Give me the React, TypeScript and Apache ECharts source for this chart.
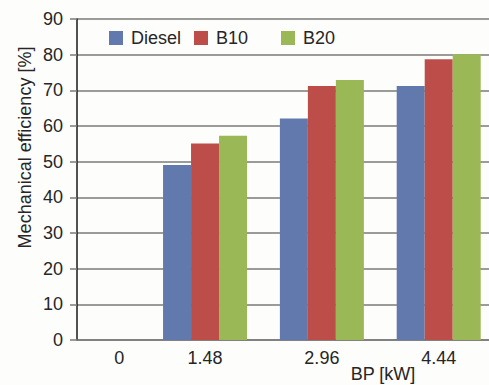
import React, { useEffect, useRef } from "react";
import * as echarts from "echarts";

const categories = ["0", "1.48", "2.96", "4.44"];
const bpValues = [0, 1.48, 2.96, 4.44];
const seriesNames = ["Diesel", "B10", "B20"];
const diesel = [null, 49.1, 62.1, 71.2];
const b10 = [null, 55.1, 71.2, 78.7];
const b20 = [null, 57.3, 72.9, 80.1];
const yTicks = [0, 10, 20, 30, 40, 50, 60, 70, 80, 90];

const colors = ["#6279AE", "#BD4D49", "#9BB856"];
const FONT = "'Liberation Sans', Arial, sans-serif";
const TXT = "#262626";

export default function App() {
  const ref = useRef<HTMLDivElement>(null);
  useEffect(() => {
    if (!ref.current) return;
    const chart = echarts.init(ref.current, null, { renderer: "svg" });
    const mk = (vals: (number | null)[]) =>
      bpValues.map((x, i) => (vals[i] == null ? null : [x, vals[i]])).filter((d) => d);
    const allSeries = [diesel, b10, b20];
    const legendLeft = [109, 194, 281];
    chart.setOption({
      animation: false,
      backgroundColor: "#fdfdfb",
      textStyle: { fontFamily: FONT },
      grid: { left: 77, right: 0, top: 19, bottom: 45, outerBoundsMode: "none", containLabel: false },
      legend: seriesNames.map((n, i) => ({
        data: [n],
        left: legendLeft[i],
        top: 29,
        padding: 0,
        itemWidth: 14,
        itemHeight: 14,
        icon: "rect",
        textStyle: { fontSize: 18, color: TXT, fontFamily: FONT, padding: [0, 0, 0, 3] },
      })),
      xAxis: {
        type: "value",
        min: -0.142,
        max: 5.077,
        name: "BP [kW]",
        nameLocation: "middle",
        nameGap: 25,
        nameMoveOverlap: false,
        nameTextStyle: { fontSize: 18, color: TXT, fontFamily: FONT, padding: [0, 0, 0, 200] },
        splitLine: { show: false },
        axisTick: { show: false },
        axisLine: { show: true, onZero: false, lineStyle: { color: "#7a7a7a", width: 1.5 } },
        axisLabel: {
          customValues: bpValues,
          margin: 9,
          fontSize: 18,
          color: TXT,
          fontFamily: FONT,
          formatter: (v: number) => {
            const idx = bpValues.findIndex((b) => Math.abs(b - v) < 1e-6);
            const s = idx >= 0 ? categories[idx] : "";
            return idx === 0 ? "{z|" + s + "}" : s;
          },
          rich: { z: { fontSize: 18, color: TXT, fontFamily: FONT, padding: [0, 0, 0, 62] } },
        },
      },
      yAxis: {
        type: "value",
        min: yTicks[0],
        max: yTicks[yTicks.length - 1],
        interval: 10,
        name: "Mechanical efficiency [%]",
        nameLocation: "middle",
        nameGap: 43,
        nameMoveOverlap: false,
        nameTextStyle: { fontSize: 18, color: TXT, fontFamily: FONT, padding: [0, 0, 0, 64] },
        axisLine: { show: true, onZero: false, lineStyle: { color: "#1a1a1a", width: 1.5 } },
        axisTick: { show: true, length: 7, lineStyle: { color: "#7a7a7a", width: 1.5 } },
        axisLabel: { fontSize: 18, color: TXT, fontFamily: FONT, margin: 14 },
        splitLine: { show: true, lineStyle: { color: "#7a7a7a", width: 1.5 } },
      },
      series: seriesNames.map((n, i) => ({
        name: n,
        type: "bar",
        barWidth: 28,
        barGap: "0%",
        itemStyle: { color: colors[i] },
        data: mk(allSeries[i]),
      })),
    });
    return () => chart.dispose();
  }, []);
  return (
    <div
      ref={ref}
      style={{ position: "absolute", left: 0, top: 0, width: 489, height: 385 }}
    />
  );
}
